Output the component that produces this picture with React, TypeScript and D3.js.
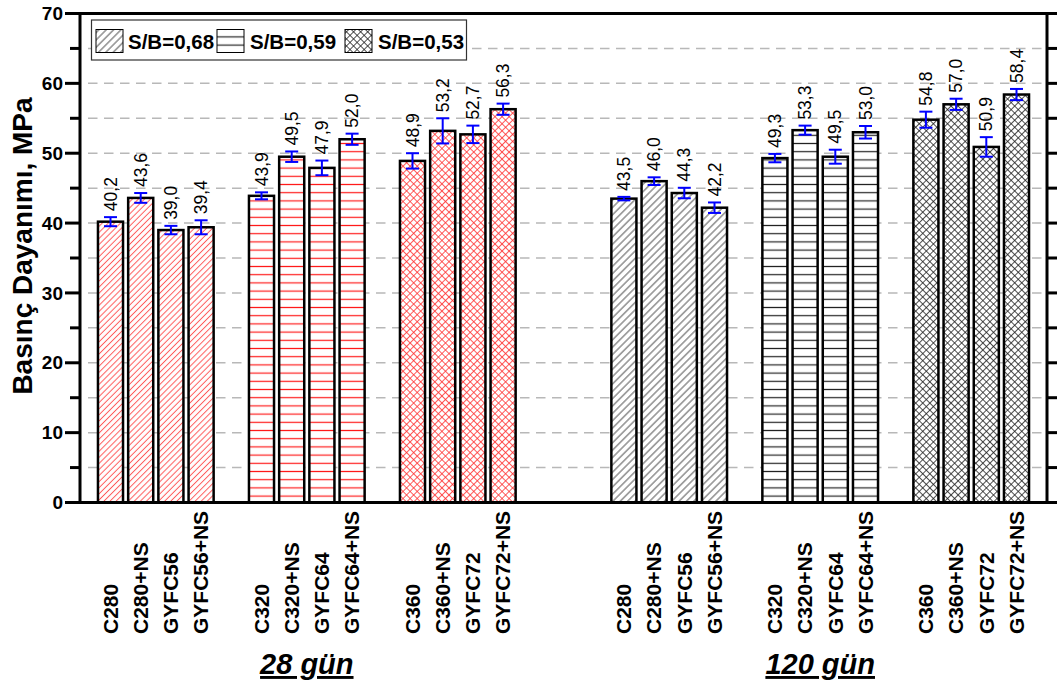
import React, { useEffect, useRef } from 'react';
import * as d3 from 'd3';

const mixNames = ['C280', 'C280+NS', 'GYFC56', 'GYFC56+NS', 'C320', 'C320+NS', 'GYFC64', 'GYFC64+NS', 'C360', 'C360+NS', 'GYFC72', 'GYFC72+NS'];
const ratioLabels = ['S/B=0,68', 'S/B=0,59', 'S/B=0,53'];
const ageLabels = ['28 gün', '120 gün'];
const strength28 = [40.2, 43.6, 39.0, 39.4, 43.9, 49.5, 47.9, 52.0, 48.9, 53.2, 52.7, 56.3];
const error28 = [0.65, 0.7, 0.6, 1.0, 0.5, 0.75, 1.05, 0.8, 1.1, 1.8, 1.25, 0.8];
const strength120 = [43.5, 46.0, 44.3, 42.2, 49.3, 53.3, 49.5, 53.0, 54.8, 57.0, 50.9, 58.4];
const error120 = [0.25, 0.55, 0.75, 0.75, 0.6, 0.65, 1.0, 0.9, 1.15, 0.8, 1.4, 0.8];
const yTicks = [0, 10, 20, 30, 40, 50, 60, 70];

const FONT = 'Arial, "Liberation Sans", sans-serif';

const App = () => {
  const chartRef = useRef<SVGSVGElement>(null);

  useEffect(() => {
    drawChart();
  }, []);

  function drawChart() {
    const svg = d3.select(chartRef.current);
    svg.selectAll('*').remove();

    const left = 80, right = 1047, top = 13.5, bottom = 502.5;

    // 4 bars per ratio, one empty slot between ratios, three between ages
    const slots: string[] = [];
    const rows: any[] = [];
    ageLabels.forEach((age, a) => {
      if (a > 0) slots.push('gap-a1', 'gap-a2', 'gap-a3');
      ratioLabels.forEach((r, s) => {
        if (s > 0) slots.push(`gap-${a}-${s}`);
        for (let k = 0; k < 4; k++) {
          const i = s * 4 + k;
          const key = `${a}-${mixNames[i]}`;
          slots.push(key);
          rows.push({
            key, age: a, ratio: s, name: mixNames[i],
            value: a === 0 ? strength28[i] : strength120[i],
            err: a === 0 ? error28[i] : error120[i],
          });
        }
      });
    });

    const x = d3.scaleBand().domain(slots).range([left, right]).paddingInner(0.17).paddingOuter(0.595);
    const y = d3.scaleLinear().domain([0, 70]).range([bottom, top]);
    const fmt = (v: number) => d3.format('.1f')(v).replace('.', ',');

    // hatch patterns: age 0 red, age 1 black
    const defs = svg.append('defs');
    const linePattern = (id: string, gap: number, angle: number, color: string, sw: number, crossed = false) => {
      const p = defs.append('pattern').attr('id', id).attr('patternUnits', 'userSpaceOnUse')
        .attr('width', gap).attr('height', gap)
        .attr('patternTransform', `rotate(${angle})`);
      p.append('rect').attr('width', gap).attr('height', gap).attr('fill', '#fff');
      p.append('line').attr('x1', 0).attr('x2', gap).attr('y1', gap / 2).attr('y2', gap / 2)
        .attr('stroke', color).attr('stroke-width', sw);
      if (crossed) {
        p.append('line').attr('x1', gap / 2).attr('x2', gap / 2).attr('y1', 0).attr('y2', gap)
          .attr('stroke', color).attr('stroke-width', sw);
      }
    };

    linePattern('hatchRed0', 4.3, -45, '#ff5a5a', 1);
    linePattern('hatchRed1', 8.2, 0, '#ff1a1a', 1.2);
    linePattern('hatchRed2', 5, 45, '#ff3030', 0.8, true);
    linePattern('hatchBlk0', 5.2, -45, '#444444', 0.9);
    linePattern('hatchBlk1', 8.2, 0, '#222222', 1.2);
    linePattern('hatchBlk2', 5, 45, '#222222', 0.8, true);
    const fillOf = (age: number, ratio: number) => `url(#${age === 0 ? 'hatchRed' : 'hatchBlk'}${ratio})`;

    // grid
    svg.append('g').selectAll('line')
      .data(d3.range(5, 70, 5))
      .enter().append('line')
      .attr('x1', left + 8).attr('x2', right)
      .attr('y1', d => y(d)).attr('y2', d => y(d))
      .attr('stroke', '#b8b8b8').attr('stroke-width', 1.5)
      .attr('stroke-dasharray', '9.5,6.5');

    // bars
    svg.append('g').selectAll('rect')
      .data(rows).enter().append('rect')
      .attr('x', d => x(d.key)!)
      .attr('y', d => y(d.value))
      .attr('width', x.bandwidth())
      .attr('height', d => bottom - y(d.value))
      .attr('fill', d => fillOf(d.age, d.ratio))
      .attr('stroke', '#000').attr('stroke-width', 2.5);

    // error bars
    const eb = svg.append('g').attr('stroke', '#0000ff').attr('stroke-width', 2);
    rows.forEach(d => {
      const cx = x(d.key)! + x.bandwidth() / 2;
      eb.append('line').attr('x1', cx).attr('x2', cx).attr('y1', y(d.value - d.err)).attr('y2', y(d.value + d.err));
      eb.append('line').attr('x1', cx - 6.5).attr('x2', cx + 6.5).attr('y1', y(d.value - d.err)).attr('y2', y(d.value - d.err));
      eb.append('line').attr('x1', cx - 6.5).attr('x2', cx + 6.5).attr('y1', y(d.value + d.err)).attr('y2', y(d.value + d.err));
    });

    // value labels
    svg.append('g').selectAll('text')
      .data(rows).enter().append('text')
      .attr('transform', d => `translate(${x(d.key)! + x.bandwidth() / 2},${y(d.value + d.err) - 6}) rotate(-90)`)
      .attr('dy', '0.35em')
      .attr('font-family', FONT).attr('font-size', 17.5)
      .text(d => fmt(d.value));

    // category labels
    svg.append('g').selectAll('text')
      .data(rows).enter().append('text')
      .attr('transform', d => `translate(${x(d.key)! + x.bandwidth() / 2},634) rotate(-90)`)
      .attr('dy', '0.35em')
      .attr('font-family', FONT).attr('font-size', 21).attr('font-weight', 'bold')
      .text(d => d.name);

    // age labels
    ageLabels.forEach((age, a) => {
      const keys = rows.filter(d => d.age === a);
      const cx = (x(keys[0].key)! + x(keys[keys.length - 1].key)! + x.bandwidth()) / 2;
      svg.append('text')
        .attr('x', cx).attr('y', 674)
        .attr('text-anchor', 'middle')
        .attr('font-family', FONT).attr('font-size', 29).attr('font-weight', 'bold').attr('font-style', 'italic')
        .attr('text-decoration', 'underline')
        .text(age);
    });

    // frame
    svg.append('rect')
      .attr('x', left).attr('y', top).attr('width', right - left).attr('height', bottom - top)
      .attr('fill', 'none').attr('stroke', '#000').attr('stroke-width', 3);

    // axis ticks
    const ax = svg.append('g').attr('stroke', '#000').attr('stroke-width', 3);
    yTicks.forEach(t => ax.append('line').attr('x1', left - 15).attr('x2', left).attr('y1', y(t)).attr('y2', y(t)));
    d3.range(5, 70, 10).forEach(t => ax.append('line').attr('x1', left - 10).attr('x2', left).attr('y1', y(t)).attr('y2', y(t)));
    d3.range(0, 75, 5).forEach(t => ax.append('line').attr('x1', right).attr('x2', right + 12).attr('y1', y(t)).attr('y2', y(t)));

    svg.append('g').selectAll('text')
      .data(yTicks).enter().append('text')
      .attr('x', 63).attr('y', d => y(d)).attr('dy', '0.35em')
      .attr('text-anchor', 'end')
      .attr('font-family', FONT).attr('font-size', 19).attr('font-weight', 'bold')
      .text(d => d);

    svg.append('text')
      .attr('transform', 'translate(31.5,246) rotate(-90)')
      .attr('text-anchor', 'middle')
      .attr('font-family', FONT).attr('font-size', 28).attr('font-weight', 'bold')
      .text('Basınç Dayanımı, MPa');

    // legend
    const lg = svg.append('g');
    lg.append('rect').attr('x', 91.5).attr('y', 20).attr('width', 375).attr('height', 40)
      .attr('fill', '#fff').attr('stroke', '#333').attr('stroke-width', 1.2);
    const swX = [96, 217, 345];
    const txX = [128, 250, 378];
    ratioLabels.forEach((r, s) => {
      lg.append('rect').attr('x', swX[s]).attr('y', 29.5).attr('width', 27).attr('height', 23)
        .attr('fill', fillOf(1, s)).attr('stroke', '#000').attr('stroke-width', 1);
      lg.append('text').attr('x', txX[s]).attr('y', 48.5)
        .attr('font-family', FONT).attr('font-size', 20.5).attr('font-weight', 'bold')
        .text(r);
    });
  }

  return (
    <>
      <style>{`body{margin:0}`}</style>
      <svg ref={chartRef} width={1057} height={688} style={{ display: 'block', background: '#fff' }}></svg>
    </>
  );
};

export default App;
